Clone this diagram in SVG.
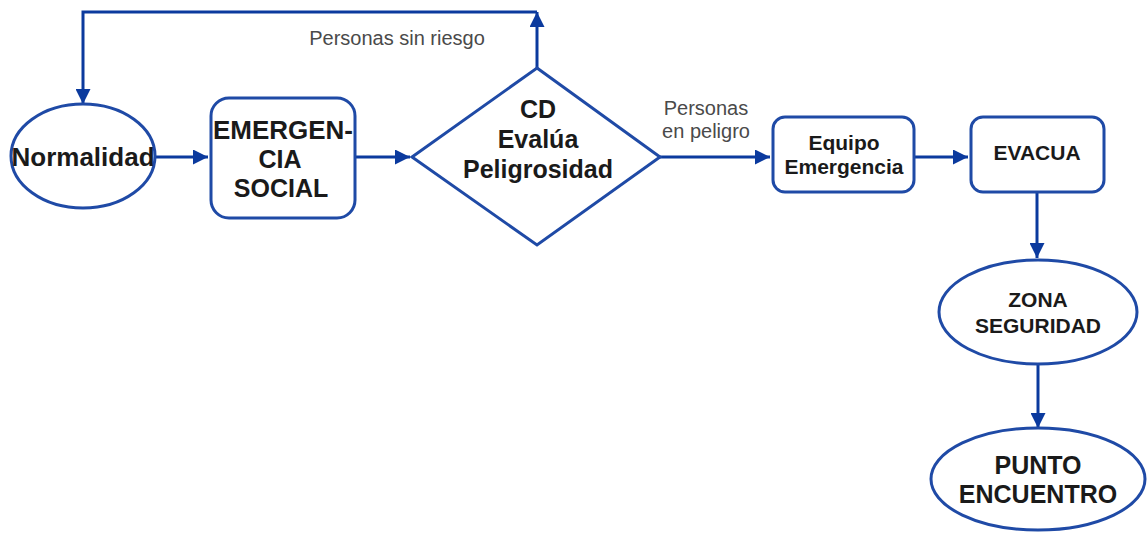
<svg xmlns="http://www.w3.org/2000/svg" width="1147" height="533" viewBox="0 0 1147 533">
<defs>
<marker id="ah" viewBox="0 0 10 10" refX="10" refY="5" markerWidth="5" markerHeight="5" orient="auto" markerUnits="strokeWidth">
<path d="M0,0 L10,5 L0,10 z" fill="#0b3a9e"/>
</marker>
<style>
.shape{fill:#fff;stroke:#1f4aa6;stroke-width:3}
.conn{fill:none;stroke:#0b3a9e;stroke-width:3;marker-end:url(#ah)}
.t{font-family:"Liberation Sans",Arial,sans-serif;font-weight:bold;fill:#1a1a1a;text-anchor:middle}
.lbl{font-family:"Liberation Sans",Arial,sans-serif;fill:#4a4a4a;text-anchor:middle;font-size:20px}
</style>
</defs>
<rect width="1147" height="533" fill="#fff"/>
<g id="connectors">
<path class="conn" d="M537,68 L537,12"/>
<path class="conn" d="M537,12 L83,12 L83,104"/>
<path class="conn" d="M155,157 L208,157"/>
<path class="conn" d="M355,157 L410,157"/>
<path class="conn" d="M660,157 L770,157"/>
<path class="conn" d="M913,157 L968,157"/>
<path class="conn" d="M1037,192 L1037,258"/>
<path class="conn" d="M1038,364 L1038,428"/>
<text class="lbl" x="397" y="45">Personas sin riesgo</text>
<text class="lbl" x="706" y="115" font-size="19">Personas</text>
<text class="lbl" x="706" y="138" font-size="19">en peligro</text>
</g>
<g id="normalidad">
<ellipse class="shape" cx="83" cy="156" rx="72" ry="52"/>
<text class="t" x="83" y="166" font-size="26">Normalidad</text>
</g>
<g id="emergencia-social">
<rect class="shape" x="211" y="98" width="144" height="120" rx="18"/>
<text class="t" x="283" y="139" font-size="25" textLength="140" lengthAdjust="spacingAndGlyphs">EMERGEN-</text>
<text class="t" x="280" y="168" font-size="25">CIA</text>
<text class="t" x="281" y="197" font-size="25">SOCIAL</text>
</g>
<g id="cd-evalua">
<polygon class="shape" points="537,68 660,157 537,245 412,157"/>
<text class="t" x="538" y="118" font-size="25">CD</text>
<text class="t" x="538" y="148" font-size="25">Evalúa</text>
<text class="t" x="538" y="178" font-size="25">Peligrosidad</text>
</g>
<g id="equipo-emergencia">
<rect class="shape" x="773" y="117" width="141" height="75" rx="12"/>
<text class="t" x="844" y="150" font-size="21">Equipo</text>
<text class="t" x="844" y="174" font-size="21">Emergencia</text>
</g>
<g id="evacua">
<rect class="shape" x="971" y="117" width="133" height="75" rx="12"/>
<text class="t" x="1037" y="160" font-size="21">EVACUA</text>
</g>
<g id="zona-seguridad">
<ellipse class="shape" cx="1038" cy="312" rx="99" ry="52"/>
<text class="t" x="1038" y="307" font-size="21">ZONA</text>
<text class="t" x="1038" y="333" font-size="21">SEGURIDAD</text>
</g>
<g id="punto-encuentro">
<ellipse class="shape" cx="1038" cy="479" rx="107" ry="51"/>
<text class="t" x="1038" y="474" font-size="25">PUNTO</text>
<text class="t" x="1038" y="503" font-size="25">ENCUENTRO</text>
</g>
</svg>
